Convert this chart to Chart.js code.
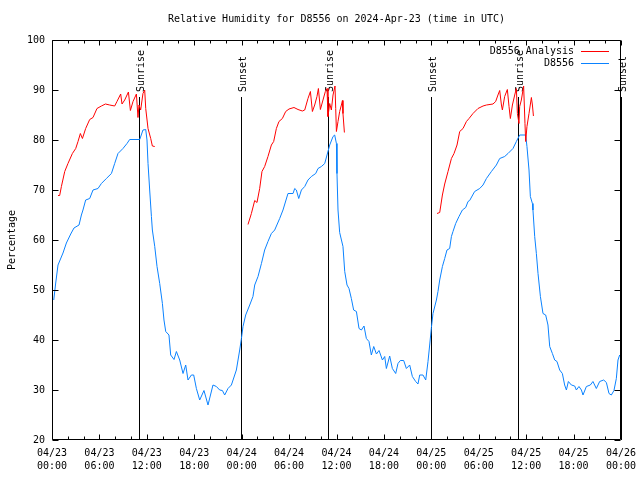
<!DOCTYPE html>
<html>
<head>
<meta charset="utf-8">
<title>Relative Humidity D8556</title>
<script src="https://cdn.jsdelivr.net/npm/chart.js@4.4.1/dist/chart.umd.min.js"></script>
<style>
  html, body { margin: 0; padding: 0; background: #fff; }
  #wrap { width: 640px; height: 480px; }
</style>
</head>
<body>
<div id="wrap"><canvas id="rhChart"></canvas></div>
<script>
// Hours since 04/23 00:00 UTC
const blueHours = [0.22,0.47,0.76,1.39,1.82,2.37,2.78,3.42,3.72,3.92,
  4.26,4.77,5.19,5.82,6.25,6.88,7.52,7.93,8.35,8.98,
  9.49,9.83,11.10,11.51,11.86,12.02,12.15,12.36,12.58,12.70,
  13.00,13.29,13.63,13.97,14.17,14.39,14.80,15.02,15.44,15.74,
  16.16,16.58,16.92,17.21,17.64,17.93,18.27,18.69,19.23,19.74,
  20.37,20.80,21.22,21.56,21.85,22.27,22.70,23.33,23.75,23.97,
  24.17,24.51,25.02,25.43,25.65,26.07,26.50,26.91,27.33,27.76,
  28.18,28.81,29.23,29.86,30.50,30.71,30.92,31.22,31.56,31.98,
  32.39,32.82,33.37,33.66,34.09,34.51,34.80,35.14,35.56,35.77,
  35.99,36.06,36.19,36.40,36.82,37.04,37.33,37.58,37.88,38.17,
  38.52,38.85,39.15,39.48,39.78,40.11,40.41,40.71,41.05,41.38,
  41.81,42.10,42.31,42.73,43.07,43.49,43.78,44.08,44.50,44.84,
  45.26,45.60,46.02,46.31,46.53,46.94,47.29,47.58,47.79,48.01,
  48.21,48.64,48.84,49.06,49.40,49.69,49.98,50.32,50.54,50.74,
  51.08,51.50,51.93,52.35,52.64,52.85,53.48,54.12,54.54,54.97,
  55.60,56.23,56.65,57.28,57.70,58.33,58.76,59.18,59.94,60.10,
  60.36,60.53,60.79,60.86,61.08,61.29,61.50,61.80,62.13,62.47,
  62.76,62.98,63.32,63.61,63.90,64.24,64.58,64.87,65.09,65.34,
  65.72,66.14,66.35,66.68,66.99,67.19,67.62,68.12,68.45,68.88,
  69.30,69.81,70.15,70.48,70.78,71.11,71.41,71.62,71.83];
const blueValues = [48,51.4,55,57.4,59.4,61.2,62.4,63,65,66,
  68,68.3,70,70.3,71.3,72.3,73.3,75.3,77.3,78.3,
  79.3,80.1,80.1,82,82.1,80,75.3,70,64.7,62,
  58.7,54.7,51.3,47.3,44,41.7,41,37,36.1,37.7,
  36,33.3,35,32,33,33,30.3,28,29.9,27,
  31,30.7,30,29.9,29,30.3,31,34,38,40.3,
  42.7,45,47,48.7,51,52.7,55.3,58,59.7,61.3,
  62,64.3,66,69.3,69.3,70.3,70,68.3,70,70.7,
  72,72.7,73.3,74.3,74.7,75.3,77,79,80.7,81,
  79.3,73.3,66,61.5,58.7,53.7,51,50.3,48.3,46,
  45.7,42.3,42,42.8,40.3,39.7,37,38.7,37.2,37.9,
  36,36.7,34.3,36.8,34.3,33.3,35.3,35.9,35.9,34.3,
  35,32.7,31.7,31.2,33,33,32,35.7,39,42.5,
  45.3,48,49.7,52,54.7,56.3,58,58.3,60.7,61.7,
  63.3,64.7,66,66.5,67.7,67.9,69.7,70.3,71,72.3,
  73.7,75,76.3,76.7,77.3,78.3,79.7,81,81,78.7,
  74,68.7,67.3,66,60.7,57.3,53.3,48.7,45.3,45,
  43,38.7,37.3,36,35.7,34,33.3,31,30,31.7,
  31,30.8,30,30.7,30,29,30.7,31,31.7,30.3,
  31.7,32,31.5,29.3,29,29.9,32.3,36,37];

// Analysis runs (three separate segments)
const redHours1 = [0.76,0.97,1.19,1.61,2.02,2.58,3.00,3.29,3.59,3.85,
  4.26,4.77,5.19,5.69,6.25,6.76,7.30,7.93,8.22,8.69,
  8.86,9.20,9.67,9.92,10.25,10.68,10.88,11.01,11.22,11.51,
  11.73,11.86,12.15,12.49,12.70,13.00];
const redValues1 = [68.9,68.9,70.7,73.7,75.3,77.3,78.3,79.7,81.3,80.3,
  82.3,84.1,84.5,86.3,86.8,87.2,87,86.8,87.7,89.2,
  87.2,88,89.6,85.9,87.7,89.2,84.5,87,86,89.3,
  90,86.3,82.3,80.3,78.8,78.7];
const redHours2 = [24.80,25.23,25.65,25.94,26.28,26.57,26.91,27.33,27.76,28.05,
  28.39,28.72,29.15,29.57,29.99,30.62,31.13,31.68,31.98,32.39,
  32.70,32.95,33.24,33.53,33.71,33.96,34.29,34.59,34.80,34.92,
  35.14,35.35,35.56,35.81,35.90,35.99,36.19,36.40,36.62,36.75,
  36.82,37.00];
const redValues2 = [63.1,65.3,67.9,67.5,70.3,73.7,74.7,76.7,79,79.7,
  82.3,83.7,84.3,85.7,86.2,86.5,86.1,85.8,86,88.3,
  89.7,85.7,87,88.7,90.3,86.1,88,89.7,90.3,84.7,
  87.3,86,89,90.8,86.3,81.7,83.7,85.7,87,87.9,
  85.3,81.5];
const redHours3 = [48.72,49.06,49.40,49.69,50.11,50.54,50.87,51.25,51.59,52.01,
  52.44,52.77,53.27,53.90,54.54,54.97,55.80,56.14,56.43,56.65,
  56.87,56.99,57.28,57.62,57.83,58.00,58.26,58.55,58.76,58.89,
  59.09,59.18,59.39,59.68,59.85,59.94,60.10,60.36,60.66,60.79,
  60.92];
const redValues3 = [65.3,65.5,69,71.2,73.7,76.3,77.3,79,81.7,82.3,
  83.7,84.3,85.3,86.3,86.8,87,87.2,87.7,89,89.9,
  87,86,88.7,90.1,86.7,84.3,87,89,90.3,85.3,
  83.3,86.7,88,90.8,83.3,79.7,82.7,85.3,88.5,87,
  84.8];

// Sunrise / sunset markers
const sunHours = [11.01, 23.93, 34.95, 47.96, 58.97, 71.98];
const sunNames = ['Sunrise', 'Sunset', 'Sunrise', 'Sunset', 'Sunrise', 'Sunset'];

// Tick labels
const xTickHours = [0, 6, 12, 18, 24, 30, 36, 42, 48, 54, 60, 66, 72];
const xTickDates = ['04/23','04/23','04/23','04/23','04/24','04/24','04/24','04/24','04/25','04/25','04/25','04/25','04/26'];
const xTickTimes = ['00:00','06:00','12:00','18:00','00:00','06:00','12:00','18:00','00:00','06:00','12:00','18:00','00:00'];
const yTicks = [20, 30, 40, 50, 60, 70, 80, 90, 100];

const titleText = 'Relative Humidity for D8556 on 2024-Apr-23 (time in UTC)';
const FONT = '10px "DejaVu Sans Mono", "Liberation Mono", monospace';

function toPoints(hours, values) {
  return hours.map((h, i) => ({ x: h, y: values[i] }));
}

// segmentos separados por um ponto nulo
const redPoints = [];
[[redHours1, redValues1], [redHours2, redValues2], [redHours3, redValues3]].forEach(([h, v], k) => {
  if (k > 0) redPoints.push({ x: h[0] - 0.01, y: null });
  redPoints.push(...toPoints(h, v));
});

// Moldura, ticks internos, marcadores do sol, título e legenda
const gnuplotLook = {
  id: 'gnuplotLook',
  beforeDatasetsDraw(chart) {
    const { ctx, chartArea: a, scales: { x } } = chart;
    ctx.save();
    ctx.strokeStyle = '#000';
    ctx.lineWidth = 1;
    ctx.fillStyle = '#000';
    ctx.font = FONT;
    sunHours.forEach((h, i) => {
      const px = Math.round(x.getPixelForValue(h)) + 0.5;
      ctx.beginPath();
      ctx.moveTo(px, a.top + 57);
      ctx.lineTo(px, a.bottom);
      ctx.stroke();
      ctx.save();
      ctx.translate(px + 2, a.top + 52);
      ctx.rotate(-Math.PI / 2);
      ctx.textAlign = 'left';
      ctx.textBaseline = 'middle';
      ctx.fillText(sunNames[i], 0, 0);
      ctx.restore();
    });
    ctx.restore();
  },
  afterDatasetsDraw(chart) {
    const { ctx, chartArea: a, scales: { x, y } } = chart;
    const L = Math.round(a.left) + 0.5, R = Math.round(a.right) - 0.5;
    const T = Math.round(a.top) + 0.5, B = Math.round(a.bottom) - 0.5;
    ctx.save();
    ctx.strokeStyle = '#000';
    ctx.lineWidth = 1;
    ctx.beginPath();
    ctx.rect(L, T, R - L, B - T);
    // ticks do eixo y (esquerda e direita)
    yTicks.forEach(v => {
      const py = Math.round(y.getPixelForValue(v)) + 0.5;
      ctx.moveTo(L, py); ctx.lineTo(L + 6, py);
      ctx.moveTo(R, py); ctx.lineTo(R - 6, py);
    });
    // ticks do eixo x, maiores a cada 6h, menores a cada 2h
    for (let h = 0; h <= 72; h += 2) {
      const px = Math.round(x.getPixelForValue(h)) + 0.5;
      const len = h % 6 === 0 ? 5 : 3;
      ctx.moveTo(px, B); ctx.lineTo(px, B - len);
      ctx.moveTo(px, T); ctx.lineTo(px, T + len);
    }
    ctx.stroke();

    // título centrado na área do gráfico
    ctx.fillStyle = '#000';
    ctx.font = FONT;
    ctx.textAlign = 'center';
    ctx.textBaseline = 'middle';
    ctx.fillText(titleText, (a.left + a.right) / 2, 19);

    // legenda no canto superior direito
    ctx.textAlign = 'right';
    chart.data.datasets.forEach((ds, i) => {
      const ly = a.top + 11 + i * 12;
      ctx.fillStyle = '#000';
      ctx.fillText(ds.label, a.right - 47, ly);
      ctx.strokeStyle = ds.borderColor;
      ctx.beginPath();
      ctx.moveTo(a.right - 40, Math.round(ly) + 0.5);
      ctx.lineTo(a.right - 12, Math.round(ly) + 0.5);
      ctx.stroke();
    });
    ctx.restore();
  }
};

Chart.defaults.font.family = '"DejaVu Sans Mono", "Liberation Mono", monospace';
Chart.defaults.font.size = 10;
Chart.defaults.color = '#000';

const ctx = document.getElementById('rhChart').getContext('2d');
new Chart(ctx, {
  type: 'line',
  data: {
    datasets: [
      {
        label: 'D8556 Analysis',
        data: redPoints,
        borderColor: '#ff0000',
        borderWidth: 1,
        pointRadius: 0,
        tension: 0,
        spanGaps: false
      },
      {
        label: 'D8556',
        data: toPoints(blueHours, blueValues),
        borderColor: '#0a82ff',
        borderWidth: 1,
        pointRadius: 0,
        tension: 0
      }
    ]
  },
  options: {
    responsive: true,
    maintainAspectRatio: false,
    animation: false,
    layout: { padding: { top: 40, right: 19, left: 0, bottom: 0 } },
    plugins: {
      legend: { display: false },
      title: { display: false },
      tooltip: { enabled: false }
    },
    scales: {
      x: {
        type: 'linear',
        min: 0,
        max: 72,
        grid: { display: false, drawTicks: false, tickLength: 0 },
        border: { display: false },
        afterFit(scale) {
          scale.height = 40;
          scale.paddingLeft = 0;
          scale.paddingRight = 0;
        },
        afterBuildTicks(scale) { scale.ticks = xTickHours.map(v => ({ value: v })); },
        ticks: {
          autoSkip: false,
          maxRotation: 0,
          padding: 7,
          font: { lineHeight: 1.3 },
          callback(value) {
            const i = xTickHours.indexOf(value);
            return i >= 0 ? [xTickDates[i], xTickTimes[i]] : '';
          }
        }
      },
      y: {
        min: 20,
        max: 100,
        grid: { display: false, drawTicks: false, tickLength: 0 },
        border: { display: false },
        afterFit(scale) {
          scale.width = 52;
          scale.paddingTop = 0;
          scale.paddingBottom = 0;
        },
        afterBuildTicks(scale) { scale.ticks = yTicks.map(v => ({ value: v })); },
        ticks: { padding: 7 },
        title: { display: true, text: 'Percentage', padding: { top: 6, bottom: 0 } }
      }
    }
  },
  plugins: [gnuplotLook]
});
</script>
</body>
</html>
